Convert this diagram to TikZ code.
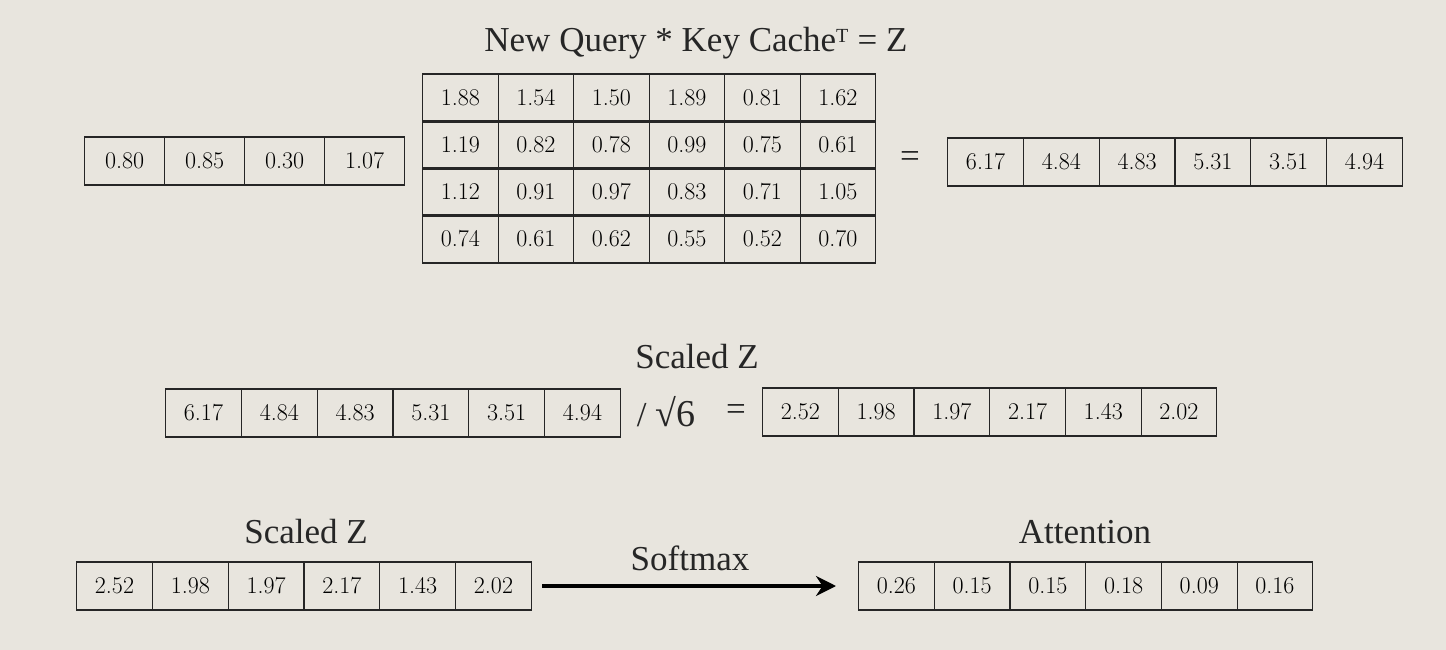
\documentclass[tikz,border=0pt]{standalone}
\usepackage{fontspec}
\usetikzlibrary{arrows.meta}
\newfontfamily\titlefont{Liberation Serif}
\definecolor{bg}{HTML}{E8E5DE}
\tikzset{cell/.style={draw=black!85,line width=1.2pt,minimum height=48pt,inner sep=0pt,anchor=west,font=\fontsize{24}{26}\selectfont},
ttl/.style={font=\titlefont\fontsize{35}{38}\selectfont,text=black!85}}
\newcommand{\cellrow}[6]{% name, x, y, width, values
 \foreach \v [count=\i from 0] in {#5}{
  \node[cell,minimum width=#4pt] (#1\i) at (#2+\i*#4,#3) {\v};}}
\begin{document}
\begin{tikzpicture}[x=1pt,y=-1pt]
\fill[bg] (0,0) rectangle (1446,650);
\useasboundingbox (0,0) rectangle (1446,650);
\node[ttl] (t1) at (696,43) {New Query * Key Cache\textsuperscript{\fontsize{20}{20}\selectfont T} = Z};
\cellrow{q}{84}{161}{80}{0.80,0.85,0.30,1.07}{}
\cellrow{ka}{422}{98}{75.5}{1.88,1.54,1.50,1.89,0.81,1.62}{}
\cellrow{kb}{422}{145}{75.5}{1.19,0.82,0.78,0.99,0.75,0.61}{}
\cellrow{kc}{422}{192}{75.5}{1.12,0.91,0.97,0.83,0.71,1.05}{}
\cellrow{kd}{422}{239}{75.5}{0.74,0.61,0.62,0.55,0.52,0.70}{}
\node[ttl] (eq1) at (910,160) {=};
\cellrow{z}{947}{162}{75.8}{6.17,4.84,4.83,5.31,3.51,4.94}{}
\node[ttl] (t2) at (697,357) {Scaled Z};
\cellrow{za}{165}{413}{75.8}{6.17,4.84,4.83,5.31,3.51,4.94}{}
\node[ttl] (div) at (666,412) {/ \fontsize{38}{40}\selectfont √6};
\node[ttl] (eq2) at (736,412) {=};
\cellrow{s}{762}{412}{75.7}{2.52,1.98,1.97,2.17,1.43,2.02}{}
\node[ttl] (t3) at (306,532) {Scaled Z};
\cellrow{sb}{76}{586}{75.8}{2.52,1.98,1.97,2.17,1.43,2.02}{}
\node[ttl] (sm) at (690,558) {Softmax};
\node[ttl] (t4) at (1085,532) {Attention};
\cellrow{a}{858}{586}{75.7}{0.26,0.15,0.15,0.18,0.09,0.16}{}
\draw[line width=3.5pt,-{Stealth[length=20pt,width=20pt]}] ([xshift=10pt]sb5.east) -- ([xshift=-22pt]a0.west);
\end{tikzpicture}
\end{document}
